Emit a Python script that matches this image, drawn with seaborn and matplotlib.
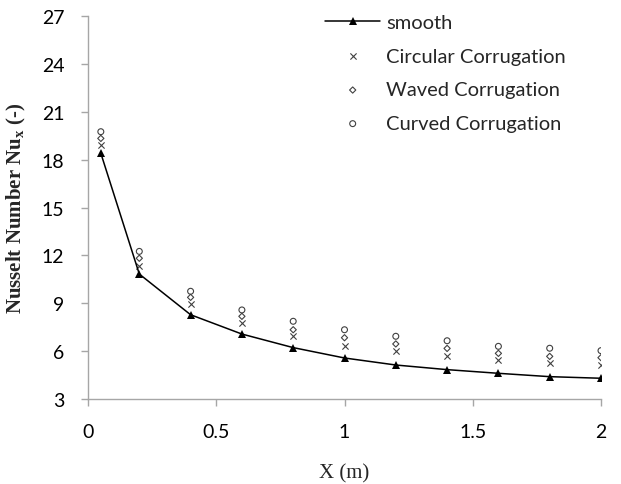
import matplotlib
matplotlib.use("Agg")
import matplotlib.pyplot as plt
import seaborn as sns
import pandas as pd

x_pos = [0.05, 0.2, 0.4, 0.6, 0.8, 1.0, 1.2, 1.4, 1.6, 1.8, 2.0]
smooth = [18.4, 10.83, 8.28, 7.07, 6.22, 5.57, 5.13, 4.84, 4.61, 4.40, 4.30]
circular = [18.91, 11.35, 8.95, 7.74, 6.93, 6.34, 6.03, 5.67, 5.42, 5.26, 5.15]
waved = [19.33, 11.82, 9.37, 8.18, 7.34, 6.84, 6.45, 6.17, 5.86, 5.67, 5.59]
curved = [19.75, 12.25, 9.75, 8.58, 7.87, 7.34, 6.93, 6.65, 6.30, 6.18, 6.03]
y_ticks = [3, 6, 9, 12, 15, 18, 21, 24, 27]
x_ticks = [0, 0.5, 1, 1.5, 2]
x_tick_labels = ["0", "0.5", "1", "1.5", "2"]

sns.set_style("white")

fig = plt.figure(figsize=(6.21, 4.85), dpi=100)
ax = fig.add_axes([88 / 621, 1 - 400 / 485, (601 - 88) / 621, (400 - 17) / 485])

df = pd.DataFrame({"x": x_pos, "smooth": smooth, "circ": circular,
                   "wave": waved, "curv": curved})

sns.lineplot(data=df, x="x", y="smooth", ax=ax, color="black", lw=1.1,
             marker="^", markersize=6, markeredgewidth=0,
             label="smooth")
sns.scatterplot(data=df, x="x", y="circ", ax=ax, marker="x", s=20,
                color="#404040", linewidth=0.8, label="Circular Corrugation")
sns.scatterplot(data=df, x="x", y="wave", ax=ax, marker="D", s=10,
                facecolor="none", edgecolor="#404040", linewidth=0.8,
                label="Waved Corrugation")
sns.scatterplot(data=df, x="x", y="curv", ax=ax, marker="o", s=18,
                facecolor="none", edgecolor="#404040", linewidth=0.8,
                label="Curved Corrugation")

ax.set_xlim(0, 2)
ax.set_ylim(3, 27)
ax.set_xticks(x_ticks)
ax.set_xticklabels(x_tick_labels)
ax.set_yticks(y_ticks)

for side in ["top", "right"]:
    ax.spines[side].set_visible(False)
for side in ["left", "bottom"]:
    ax.spines[side].set_color("#a6a6a6")
    ax.spines[side].set_linewidth(1.0)

ax.tick_params(axis="both", direction="out", length=5, width=1.0,
               color="#a6a6a6", labelsize=14, labelcolor="black",
               bottom=True, left=True, pad=12)
for lab in ax.get_xticklabels() + ax.get_yticklabels():
    lab.set_family("Lato")

ax.set_xlabel("X (m)", family="Liberation Serif", fontsize=15, labelpad=17)
ax.set_ylabel("Nusselt Number Nu$_\\mathregular{x}$ (-)", family="Liberation Serif",
              fontsize=15, fontweight="bold", labelpad=10)

handles, labels = ax.get_legend_handles_labels()
if ax.get_legend():
    ax.get_legend().remove()
fig.legend(handles, labels, loc="upper left",
           bbox_to_anchor=(325 / 621, 1 - 15 / 485),
           frameon=False, prop={"family": "Lato", "size": 14.5},
           handlelength=2.75, handletextpad=0.3, labelspacing=0.82,
           borderpad=0, borderaxespad=0)

fig.savefig("out.png", dpi=100)
